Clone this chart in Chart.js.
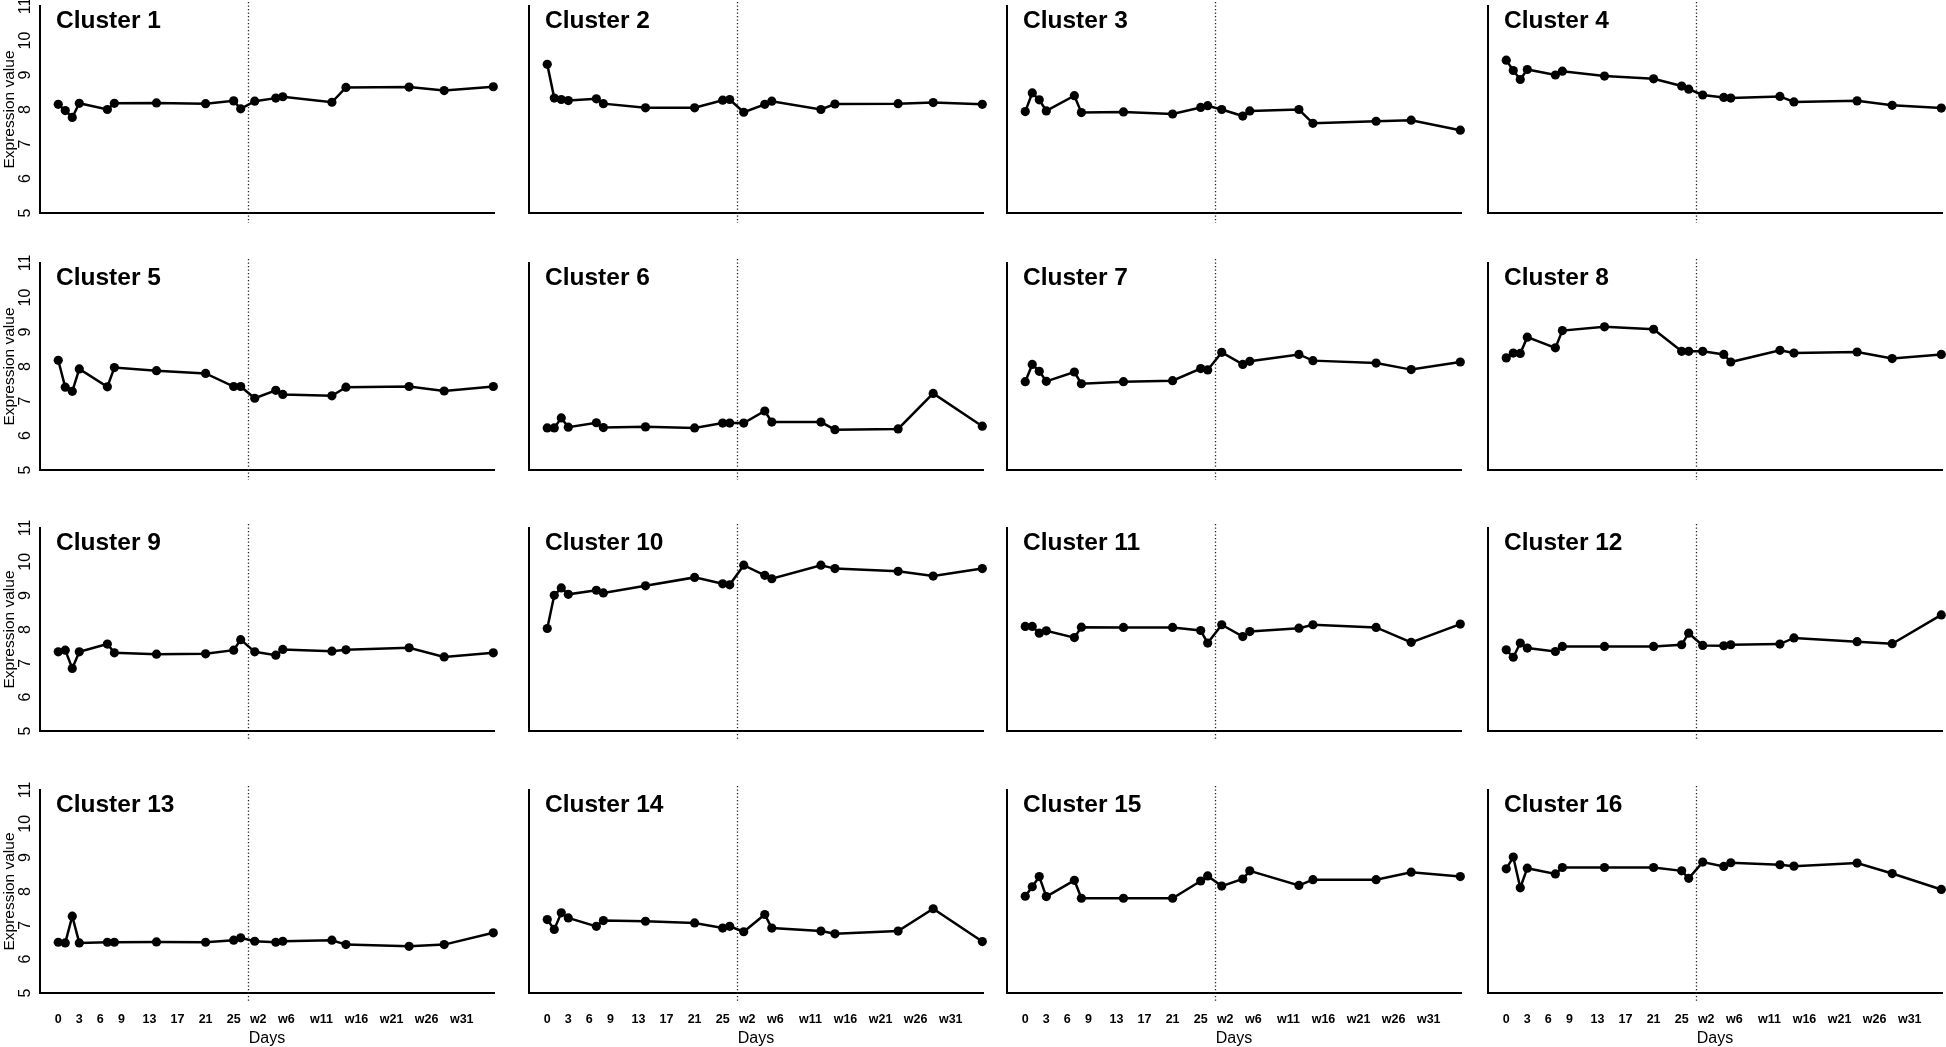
<!DOCTYPE html>
<html>
<head>
<meta charset="utf-8">
<title>Cluster expression profiles</title>
<script src="https://cdn.jsdelivr.net/npm/chart.js@4.4.1/dist/chart.umd.min.js"></script>
<style>
  html, body { margin: 0; padding: 0; background: #fff; }
  #wrap { position: relative; width: 1946px; height: 1047px; overflow: hidden; }
  #wrap canvas { position: absolute; }
</style>
</head>
<body>
<div id="wrap"></div>
<script>
// sampling times on one shared axis: days 0-26, then weeks (w2 sits right after day 26)
const timePoints = [0, 1, 2, 3, 7, 8, 14, 21, 25, 26, 28, 31, 32, 39, 41, 50, 55, 62];
const tickValues = [0, 3, 6, 9, 13, 17, 21, 25, 28.5, 32.5, 37.5, 42.5, 47.5, 52.5, 57.5];
const tickLabels = ['0', '3', '6', '9', '13', '17', '21', '25', 'w2', 'w6', 'w11', 'w16', 'w21', 'w26', 'w31'];
const splitAt = 27; // days | weeks boundary

// expression values, one array per cluster
const cluster1 = [8.15, 7.97, 7.77, 8.18, 8.00, 8.18, 8.19, 8.17, 8.25, 8.02, 8.24, 8.33, 8.37, 8.21, 8.64, 8.65, 8.55, 8.66];
const cluster2 = [9.31, 8.33, 8.29, 8.26, 8.31, 8.17, 8.05, 8.05, 8.27, 8.29, 7.92, 8.15, 8.24, 8.00, 8.16, 8.17, 8.20, 8.15];
const cluster3 = [7.94, 8.48, 8.28, 7.96, 8.40, 7.91, 7.93, 7.87, 8.06, 8.11, 8.00, 7.81, 7.96, 8.00, 7.60, 7.66, 7.69, 7.40];
const cluster4 = [9.43, 9.13, 8.87, 9.16, 9.00, 9.11, 8.97, 8.89, 8.68, 8.59, 8.42, 8.35, 8.33, 8.38, 8.22, 8.25, 8.12, 8.04];
const cluster5 = [8.18, 7.40, 7.28, 7.93, 7.41, 7.97, 7.88, 7.80, 7.42, 7.42, 7.08, 7.31, 7.19, 7.15, 7.40, 7.42, 7.29, 7.42];
const cluster6 = [6.22, 6.22, 6.51, 6.24, 6.37, 6.23, 6.25, 6.22, 6.36, 6.36, 6.36, 6.71, 6.39, 6.39, 6.17, 6.19, 7.22, 6.27];
const cluster7 = [7.56, 8.06, 7.86, 7.57, 7.84, 7.50, 7.56, 7.59, 7.94, 7.90, 8.41, 8.06, 8.15, 8.35, 8.17, 8.10, 7.91, 8.13];
const cluster8 = [8.25, 8.39, 8.38, 8.85, 8.54, 9.04, 9.15, 9.08, 8.44, 8.44, 8.44, 8.35, 8.13, 8.47, 8.39, 8.42, 8.23, 8.35];
const cluster9 = [7.34, 7.39, 6.85, 7.34, 7.57, 7.31, 7.27, 7.28, 7.39, 7.70, 7.34, 7.24, 7.41, 7.36, 7.40, 7.46, 7.19, 7.31];
const cluster10 = [8.03, 9.01, 9.23, 9.04, 9.16, 9.08, 9.29, 9.54, 9.35, 9.32, 9.90, 9.60, 9.50, 9.90, 9.80, 9.72, 9.58, 9.80];
const cluster11 = [8.09, 8.09, 7.89, 7.96, 7.76, 8.07, 8.06, 8.06, 7.97, 7.60, 8.14, 7.79, 7.94, 8.04, 8.14, 8.06, 7.62, 8.16];
const cluster12 = [7.40, 7.18, 7.60, 7.45, 7.35, 7.50, 7.50, 7.50, 7.55, 7.89, 7.53, 7.52, 7.55, 7.57, 7.75, 7.64, 7.58, 8.43];
const cluster13 = [6.50, 6.48, 7.27, 6.48, 6.50, 6.50, 6.51, 6.50, 6.56, 6.63, 6.53, 6.50, 6.53, 6.56, 6.43, 6.38, 6.43, 6.78];
const cluster14 = [7.17, 6.88, 7.37, 7.22, 6.97, 7.14, 7.12, 7.07, 6.92, 6.97, 6.81, 7.32, 6.92, 6.83, 6.75, 6.83, 7.49, 6.52];
const cluster15 = [7.86, 8.14, 8.44, 7.85, 8.33, 7.80, 7.80, 7.80, 8.31, 8.46, 8.16, 8.37, 8.61, 8.18, 8.35, 8.35, 8.57, 8.44];
const cluster16 = [8.67, 9.02, 8.11, 8.69, 8.52, 8.71, 8.71, 8.71, 8.61, 8.39, 8.87, 8.74, 8.85, 8.79, 8.75, 8.84, 8.53, 8.06];

const clusters = [cluster1, cluster2, cluster3, cluster4, cluster5, cluster6, cluster7, cluster8,
  cluster9, cluster10, cluster11, cluster12, cluster13, cluster14, cluster15, cluster16];

// panel placement on the page
const colLeft = [40, 529, 1007, 1488];
const rowTop = [6, 263, 528, 790];
const rowHeight = [207, 207, 203, 203];
const PANEL_W = 454;
const AXIS_W = 40;   // room for the y axis
const AXIS_H = 60;   // room for the x axis
const PAD_T = 20;
const PAD_R = 10;

Chart.defaults.font.family = '"Liberation Sans", Arial, sans-serif';
Chart.defaults.color = '#000';

// "Cluster n" label inside the top-left corner of the plot
const clusterTitle = {
  id: 'clusterTitle',
  afterDraw(chart, args, opts) {
    const { ctx, chartArea } = chart;
    ctx.save();
    ctx.font = 'bold 24.5px "Liberation Sans", Arial, sans-serif';
    ctx.fillStyle = '#000';
    ctx.textBaseline = 'alphabetic';
    ctx.fillText(opts.text, chartArea.left + 16, chartArea.top + 22);
    ctx.restore();
  }
};

// dotted vertical line between days and weeks
const splitLine = {
  id: 'splitLine',
  beforeDatasetsDraw(chart, args, opts) {
    const { ctx, chartArea } = chart;
    const x = Math.round(chart.scales.x.getPixelForValue(opts.value)) + 0.5;
    ctx.save();
    ctx.setLineDash([1.2, 2.3]);
    ctx.lineWidth = 1.3;
    ctx.strokeStyle = '#222';
    ctx.beginPath();
    ctx.moveTo(x, chartArea.top - 4);
    ctx.lineTo(x, chartArea.bottom + 10);
    ctx.stroke();
    ctx.restore();
  }
};

const wrap = document.getElementById('wrap');

clusters.forEach((values, i) => {
  const row = Math.floor(i / 4);
  const col = i % 4;
  const firstCol = col === 0;
  const lastRow = row === 3;

  const canvas = document.createElement('canvas');
  canvas.width = AXIS_W + PANEL_W + PAD_R;
  canvas.height = PAD_T + rowHeight[row] + AXIS_H;
  canvas.style.left = (colLeft[col] - AXIS_W) + 'px';
  canvas.style.top = (rowTop[row] - PAD_T) + 'px';
  wrap.appendChild(canvas);

  new Chart(canvas, {
    type: 'line',
    data: {
      datasets: [{
        data: timePoints.map((t, k) => ({ x: t, y: values[k] })),
        borderColor: '#000',
        backgroundColor: '#000',
        borderWidth: 2.5,
        pointRadius: 4.6,
        pointBorderWidth: 0,
        pointBackgroundColor: '#000',
        tension: 0,
        fill: false,
        clip: false
      }]
    },
    options: {
      responsive: false,
      animation: false,
      events: [],
      layout: { padding: { top: PAD_T, right: PAD_R, left: 0, bottom: 0 } },
      plugins: {
        legend: { display: false },
        tooltip: { enabled: false },
        clusterTitle: { text: 'Cluster ' + (i + 1) },
        splitLine: { value: splitAt }
      },
      scales: {
        x: {
          type: 'linear',
          min: -2.6,
          max: 62.1,
          grid: { display: true, drawOnChartArea: false, drawTicks: false },
          border: { display: true, color: '#000', width: 2 },
          afterBuildTicks: (scale) => {
            scale.ticks = tickValues.map(v => ({ value: v }));
          },
          afterFit: (scale) => { scale.height = AXIS_H; },
          ticks: {
            display: lastRow,
            autoSkip: false,
            maxRotation: 0,
            minRotation: 0,
            padding: 19,
            font: { size: 12.5, weight: 'bold' },
            callback: (v) => tickLabels[tickValues.indexOf(v)]
          },
          title: {
            display: lastRow,
            text: 'Days',
            font: { size: 16 },
            padding: { top: 0, bottom: 5 }
          }
        },
        y: {
          min: 5,
          max: 11,
          grid: { display: true, drawOnChartArea: false, drawTicks: false },
          border: { display: true, color: '#000', width: 2 },
          afterFit: (scale) => { scale.width = AXIS_W; },
          ticks: {
            display: firstCol,
            stepSize: 1,
            minRotation: 90,
            maxRotation: 90,
            crossAlign: 'center',
            padding: 6,
            font: { size: 16 }
          },
          title: {
            display: firstCol,
            text: 'Expression value',
            font: { size: 15.5 },
            padding: { top: 0, bottom: 0 }
          }
        }
      }
    },
    plugins: [clusterTitle, splitLine]
  });
});
</script>
</body>
</html>
